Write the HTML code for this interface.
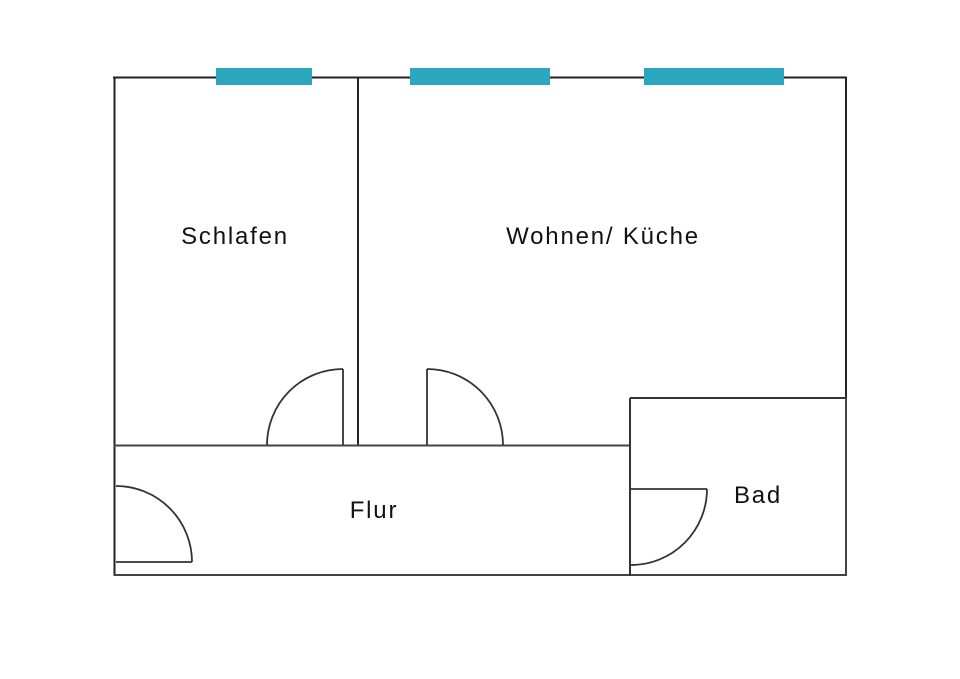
<!DOCTYPE html>
<html><head><meta charset="utf-8"><style>
html,body{margin:0;padding:0;background:#fff;width:960px;height:679px;overflow:hidden}
</style></head><body>
<svg width="960" height="679" viewBox="0 0 960 679" xmlns="http://www.w3.org/2000/svg">
<g stroke="#222" stroke-width="2" fill="none">
<line x1="113" y1="77.5" x2="847" y2="77.5"/>
<line x1="114.5" y1="77" x2="114.5" y2="576"/>
<line x1="846" y1="77" x2="846" y2="398"/>
<line x1="358" y1="77" x2="358" y2="445"/>
<line x1="114" y1="445.5" x2="630" y2="445.5" stroke="#444"/>
<line x1="114" y1="575" x2="847" y2="575" stroke="#444"/>
<line x1="630" y1="398" x2="847" y2="398" stroke="#333"/>
<line x1="630" y1="398" x2="630" y2="576" stroke="#333"/>
<line x1="846" y1="398" x2="846" y2="576" stroke="#444"/>
</g>
<g stroke="#333" stroke-width="1.8" fill="none">
<line x1="343" y1="369" x2="343" y2="445"/>
<path d="M343 369 A76 76 0 0 0 267 445"/>
<line x1="427" y1="369" x2="427" y2="445"/>
<path d="M427 369 A76 76 0 0 1 503 445"/>
<line x1="116" y1="562" x2="192" y2="562"/>
<path d="M116 486 A76 76 0 0 1 192 562"/>
<line x1="631" y1="489" x2="707" y2="489"/>
<path d="M707 489 A76 76 0 0 1 631 565"/>
</g>
<g fill="#2aa7bf">
<rect x="216" y="68" width="96" height="17"/>
<rect x="410" y="68" width="140" height="17"/>
<rect x="644" y="68" width="140" height="17"/>
</g>
<g font-family="Liberation Sans, sans-serif" font-size="24" letter-spacing="1.8" fill="#111" text-anchor="middle">
<text x="235" y="244">Schlafen</text>
<text x="603" y="244">Wohnen/ Küche</text>
<text x="374" y="518">Flur</text>
<text x="758" y="503">Bad</text>
</g>
</svg>
</body></html>
